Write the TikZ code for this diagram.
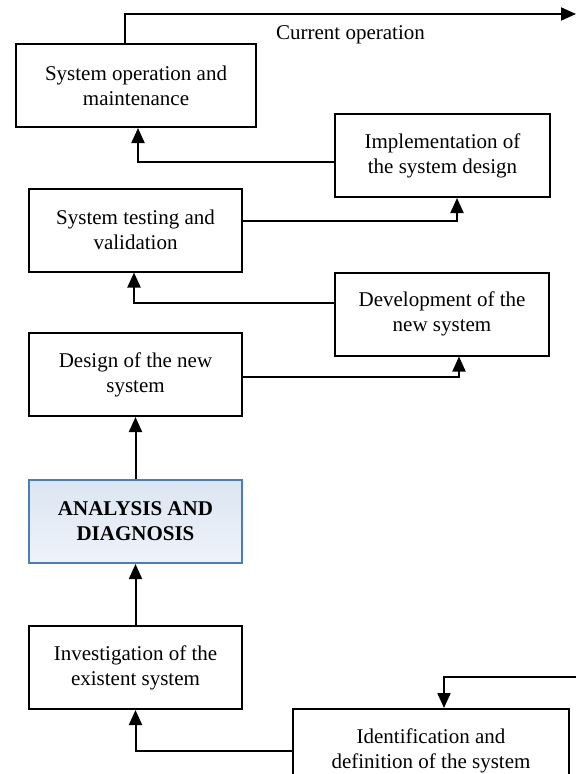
\documentclass[tikz,border=0pt]{standalone}
\usepackage{fontspec}
\setmainfont{Liberation Serif}
\usetikzlibrary{arrows.meta, positioning, calc}
\definecolor{keyblue}{HTML}{4A7EBB}
\definecolor{keytop}{HTML}{DBE5F1}
\definecolor{keybottom}{HTML}{EEF3FA}
\tikzset{x = 1pt, y = -1pt,
         >= {Triangle[length = 15pt, width = 13pt]},
         every node/.style = {font = \fontsize{21}{25}\selectfont},
         block/.style = {draw, line width = 2pt, align = center,
                         minimum width = 213pt, minimum height = 83pt,
                         inner sep = 0pt},
         keyblock/.style = {block, draw = keyblue,
                            top color = keytop, bottom color = keybottom,
                            font = \fontsize{21}{25}\selectfont\bfseries},
         flow/.style = {->, line width = 2pt}}

\begin{document}
\begin{tikzpicture}
        \useasboundingbox (0,0) rectangle (576,774);
        \clip (0,0) rectangle (576,774);

        \node[block, minimum width = 240pt] (sysop)    at (136, 85.5)    {System operation and\\maintenance};
        \node[block, minimum width = 215pt] (impl)     at (442.5, 155.5) {Implementation of\\the system design};
        \node[block]                        (test)     at (135.5, 230)   {System testing and\\validation};
        \node[block, minimum width = 214pt] (dev)      at (442, 314)     {Development of the\\new system};
        \node[block]                        (design)   at (135.5, 374.5) {Design of the new\\system};
        \node[keyblock]                     (analysis) at (135.5, 521.5) {ANALYSIS AND\\DIAGNOSIS};
        \node[block]                        (invest)   at (135.5, 667.5) {Investigation of the\\existent system};
        \node[block, minimum width = 276pt] (ident)    at (431, 750.5)   {Identification and\\definition of the system};

        \coordinate (current) at (576, 14);
        \coordinate (entry)   at (576, 677);

        \draw[flow] ([xshift = -11pt]sysop.north) |- (current)
                    node[below, pos = 0.75, inner sep = 11pt] (curlabel) {Current operation};
        \draw[flow] ([yshift = -6.5pt]impl.west)  -| ([xshift = 2pt]sysop.south);
        \draw[flow] ([yshift = 9pt]test.east)     -| ([xshift = 14.5pt]impl.south);
        \draw[flow] ([yshift = 11pt]dev.west)     -| ([xshift = -1.5pt]test.south);
        \draw[flow] ([yshift = -2.5pt]design.east) -| ([xshift = 17pt]dev.south);
        \draw[flow] (analysis.north) -- (design.south);
        \draw[flow] (invest.north)   -- (analysis.south);
        \draw[flow] ([yshift = -0.5pt]ident.west) -| (invest.south);
        \draw[flow] (entry) -| ([xshift = 13pt]ident.north);
\end{tikzpicture}
\end{document}
